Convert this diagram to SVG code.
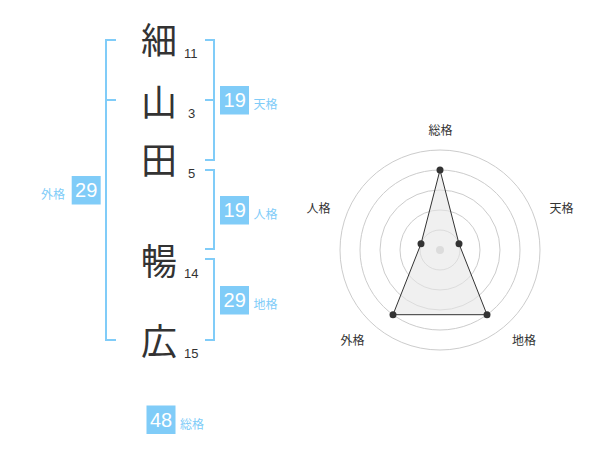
<svg xmlns="http://www.w3.org/2000/svg" width="600" height="470" viewBox="0 0 600 470">
<style>
.k{font-family:"Noto Sans CJK JP","Noto Sans CJK SC",sans-serif;font-size:36px;fill:#333;text-anchor:middle}
.n{font-family:"Liberation Sans",Arial,sans-serif;font-size:13px;fill:#333}
.br{fill:none;stroke:#80ccf8;stroke-width:2}
.box{fill:#80ccf8}
.bv{font-family:"Liberation Sans",Arial,sans-serif;font-size:20px;fill:#fff;text-anchor:middle}
.bl{font-family:"Noto Sans CJK JP","Noto Sans CJK SC",sans-serif;font-size:12px;fill:#80ccf8}
.ring{fill:none;stroke:#ccc;stroke-width:1}
.rl{font-family:"Noto Sans CJK JP","Noto Sans CJK SC",sans-serif;font-size:12px;fill:#333;text-anchor:middle}
.pt{fill:#333}
</style>
<g id="chars">
<g id="c1"><text class="k" x="159" y="53.5">細</text><text class="n" x="184" y="57.5">11</text></g>
<g id="c2"><text class="k" x="159" y="116">山</text><text class="n" x="188" y="117.5">3</text></g>
<g id="c3"><text class="k" x="159" y="174">田</text><text class="n" x="188" y="178">5</text></g>
<g id="c4"><text class="k" x="159" y="274.5">暢</text><text class="n" x="184" y="278">14</text></g>
<g id="c5"><text class="k" x="159" y="354.5">広</text><text class="n" x="184" y="357.5">15</text></g>
</g>
<g id="connectors">
<path class="br" d="M116,40 H106 V340 H116 M106,100 H116"/>
<path class="br" d="M205,40 H214 V160 H205 M205,100 H214"/>
<path class="br" d="M205,170 H214 V249 H205"/>
<path class="br" d="M205,259 H214 V340 H205"/>
</g>
<g id="tenkaku"><rect class="box" x="220" y="86" width="29" height="28.5"/><text class="bv" x="234.7" y="107.3">19</text><text class="bl" x="253.5" y="109">天格</text></g>
<g id="jinkaku"><rect class="box" x="220" y="196" width="29" height="28.5"/><text class="bv" x="234.7" y="217.3">19</text><text class="bl" x="253.5" y="219">人格</text></g>
<g id="chikaku"><rect class="box" x="220" y="286" width="29" height="28.5"/><text class="bv" x="234.7" y="307.3">29</text><text class="bl" x="253.5" y="309">地格</text></g>
<g id="gaikaku"><rect class="box" x="71.7" y="176" width="29" height="28.5"/><text class="bv" x="86.2" y="197.3">29</text><text class="bl" x="41" y="199">外格</text></g>
<g id="soukaku"><rect class="box" x="146.5" y="405.5" width="29" height="28.5"/><text class="bv" x="161" y="426.8">48</text><text class="bl" x="180" y="428.5">総格</text></g>
<g id="radar">
<circle class="ring" cx="440" cy="250" r="20"/>
<circle class="ring" cx="440" cy="250" r="40"/>
<circle class="ring" cx="440" cy="250" r="60"/>
<circle class="ring" cx="440" cy="250" r="80"/>
<circle class="ring" cx="440" cy="250" r="100"/>
<circle cx="440" cy="250" r="4" fill="#ccc"/>
<polygon points="440,170 459,243.8 487,314.7 393,314.7 421,243.8" fill="#e6e6e6" fill-opacity="0.6" stroke="#333" stroke-width="1"/>
<circle class="pt" cx="440" cy="170" r="3.5"/>
<circle class="pt" cx="459" cy="243.8" r="3.5"/>
<circle class="pt" cx="487" cy="314.7" r="3.5"/>
<circle class="pt" cx="393" cy="314.7" r="3.5"/>
<circle class="pt" cx="421" cy="243.8" r="3.5"/>
<text class="rl" x="440.5" y="135">総格</text>
<text class="rl" x="561.5" y="212.5">天格</text>
<text class="rl" x="524" y="344.5">地格</text>
<text class="rl" x="352.5" y="344.5">外格</text>
<text class="rl" x="318.5" y="212.5">人格</text>
</g>
</svg>
